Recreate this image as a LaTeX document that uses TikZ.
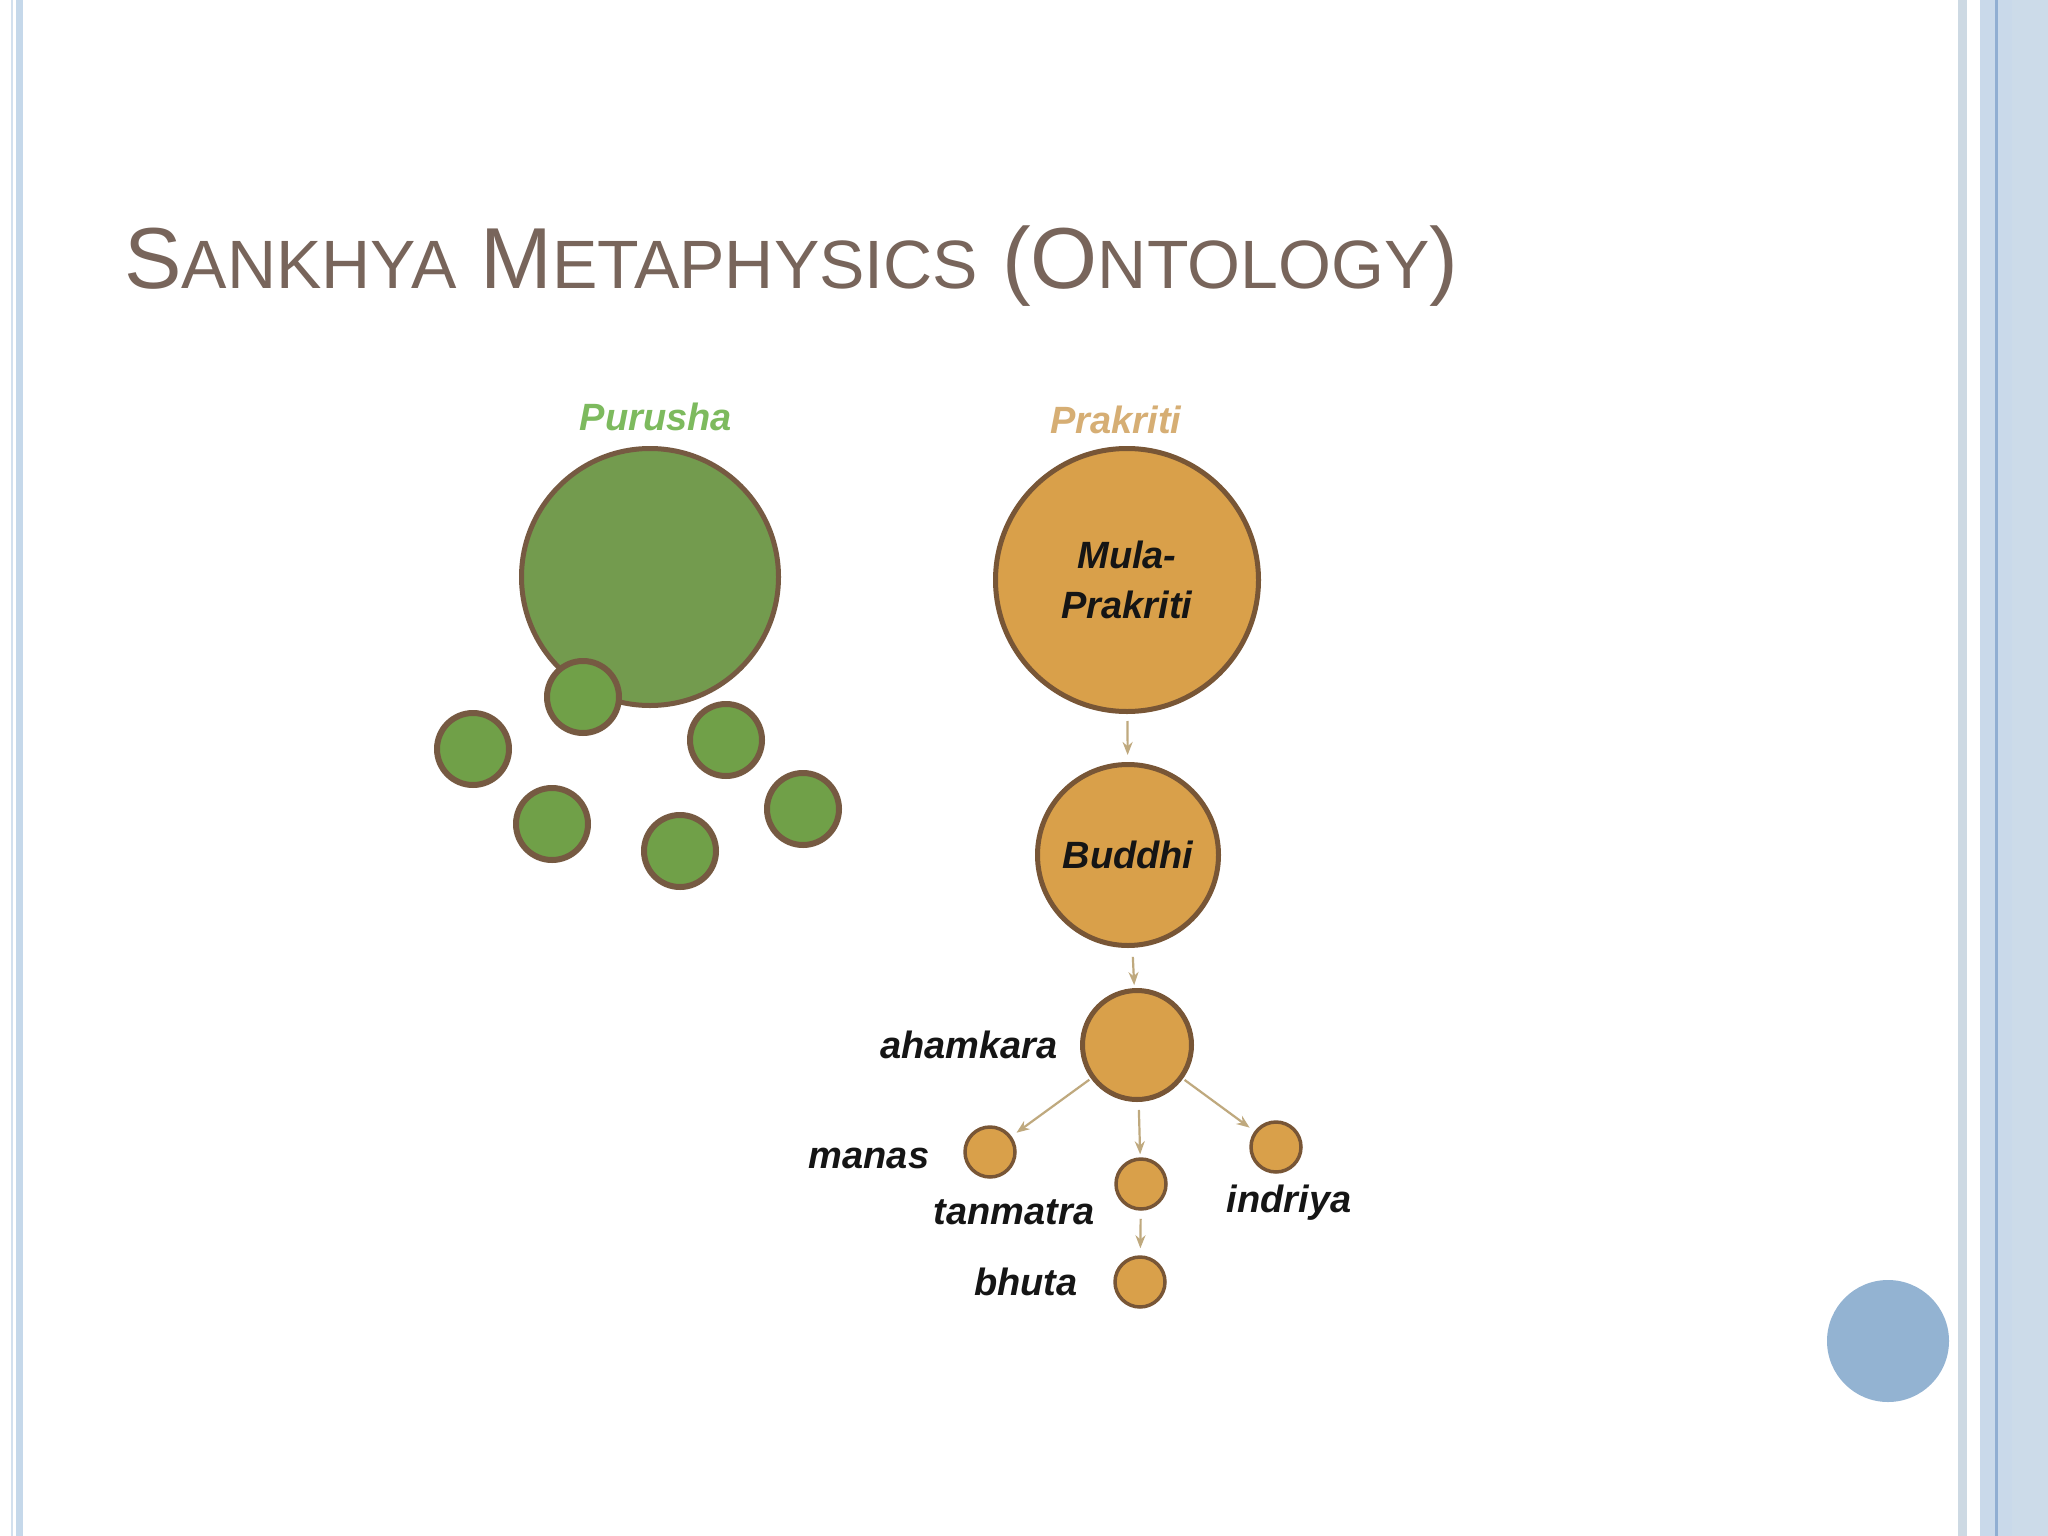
\documentclass[tikz,border=0pt]{standalone}
\usepackage{fontspec}
\setmainfont{Liberation Sans}
\newfontfamily\titlefont[FakeStretch=0.995]{Liberation Sans}
\usetikzlibrary{arrows.meta}
\definecolor{bandA}{HTML}{C5D8EA}
\definecolor{bandB}{HTML}{D2E0EE}
\definecolor{bandC}{HTML}{CDD9E3}
\definecolor{bandD}{HTML}{C9D9EA}
\definecolor{bandE}{HTML}{90AED2}
\definecolor{bandF}{HTML}{CCDBE9}
\definecolor{dotblue}{HTML}{93B3D2}
\definecolor{titlec}{HTML}{78655B}
\definecolor{pgreen}{HTML}{70A048}
\definecolor{pgreenbig}{HTML}{739B4E}
\definecolor{gbrown}{HTML}{765A42}
\definecolor{porange}{HTML}{D9A04A}
\definecolor{obrown}{HTML}{785636}
\definecolor{greentext}{HTML}{7DBA5E}
\definecolor{tantext}{HTML}{D6AE74}
\definecolor{arrowc}{HTML}{BFA97E}
\definecolor{labelc}{HTML}{151515}
\newcommand{\tbigcap}[1]{{\fontsize{86.6}{90}\selectfont #1}}
\newcommand{\tsmlcap}[1]{{\fontsize{68.4}{90}\selectfont #1}}
\begin{document}
\begin{tikzpicture}[x=1pt,y=-1pt,
  gbig/.style={circle, draw=gbrown, line width=5pt, fill=pgreenbig, minimum size=257pt, inner sep=0pt},
  gsmall/.style={circle, draw=gbrown, line width=6pt, fill=pgreen, minimum size=72pt, inner sep=0pt},
  obig/.style={circle, draw=obrown, line width=5pt, fill=porange, minimum size=#1, inner sep=0pt,
     text=labelc, font=\bfseries\itshape\fontsize{38}{50}\selectfont, align=center},
  osmall/.style={circle, draw=obrown, line width=3.5pt, fill=porange, minimum size=50pt, inner sep=0pt},
  lbl/.style={anchor=base, inner sep=0pt, text=labelc, font=\bfseries\itshape\fontsize{38}{46}\selectfont},
  conn/.style={draw=arrowc, line width=2.2pt, -{Stealth[length=13pt,width=10pt]}}
]
\useasboundingbox (0,0) rectangle (2048,1536);
\fill[white] (0,0) rectangle (2048,1536);
% frame bands
\fill[bandB] (11,0) rectangle (13.3,1536);
\fill[bandA] (16,0) rectangle (23.3,1536);
\fill[bandC] (1958,0) rectangle (1967,1536);
\fill[bandD] (1980,0) rectangle (1995,1536);
\fill[bandE] (1995,0) rectangle (1998,1536);
\fill[bandD] (1998,0) rectangle (2012,1536);
\fill[bandF] (2012,0) rectangle (2048,1536);
\node[circle, fill=dotblue, minimum size=122pt, inner sep=0pt] (dot) at (1888,1341) {};
% title
\node[anchor=base west, inner sep=0pt, text=titlec, font=\titlefont] (title) at (124,288)
  {\tbigcap{S}\tsmlcap{ANKHYA}\tbigcap{ M}\tsmlcap{ETAPHYSICS}\tbigcap{ (O}\tsmlcap{NTOLOGY}\tbigcap{)}};
% Purusha
\node[anchor=base, inner sep=0pt, text=greentext, font=\bfseries\itshape\fontsize{38}{46}\selectfont] (purlbl) at (656,430) {Purusha};
\node[gbig] (pur) at (650,577) {};
\node[gsmall] (g1) at (583,697) {};
\node[gsmall] (g2) at (473,749) {};
\node[gsmall] (g3) at (726,740) {};
\node[gsmall] (g4) at (552,824) {};
\node[gsmall] (g5) at (680,851) {};
\node[gsmall] (g6) at (803,809) {};
% Prakriti
\node[anchor=base, inner sep=0pt, text=tantext, font=\bfseries\itshape\fontsize{38}{46}\selectfont] (prlbl) at (1116,433) {Prakriti};
\node[obig=263pt] (mula) at (1127,580) {Mula-\\Prakriti};
\node[obig=181pt] (buddhi) at (1128,855) {Buddhi};
\node[obig=109pt] (aham) at (1137,1045) {};
\node[osmall] (manas) at (990,1152) {};
\node[osmall] (tan) at (1141,1184) {};
\node[osmall] (indr) at (1276,1147) {};
\node[osmall] (bhuta) at (1140,1282) {};
% labels
\node[lbl] (ahamlbl) at (969,1058) {ahamkara};
\node[lbl] (manaslbl) at (869,1168) {manas};
\node[lbl] (tanlbl) at (1014,1224) {tanmatra};
\node[lbl] (bhutalbl) at (1026,1295) {bhuta};
\node[lbl] (indrlbl) at (1289,1212) {indriya};
% connectors
\draw[conn, shorten <=7pt, shorten >=7pt] (mula) -- (buddhi);
\draw[conn, shorten <=9pt, shorten >=3pt] (buddhi) -- (aham);
\draw[conn, shorten <=8pt, shorten >=3pt] (aham) -- (tan);
\draw[conn, shorten <=8pt, shorten >=7pt] (tan) -- (bhuta);
\draw[conn, shorten <=2pt, shorten >=6pt] (aham) -- (manas);
\draw[conn, shorten <=2pt, shorten >=6pt] (aham) -- (indr);
\end{tikzpicture}
\end{document}
